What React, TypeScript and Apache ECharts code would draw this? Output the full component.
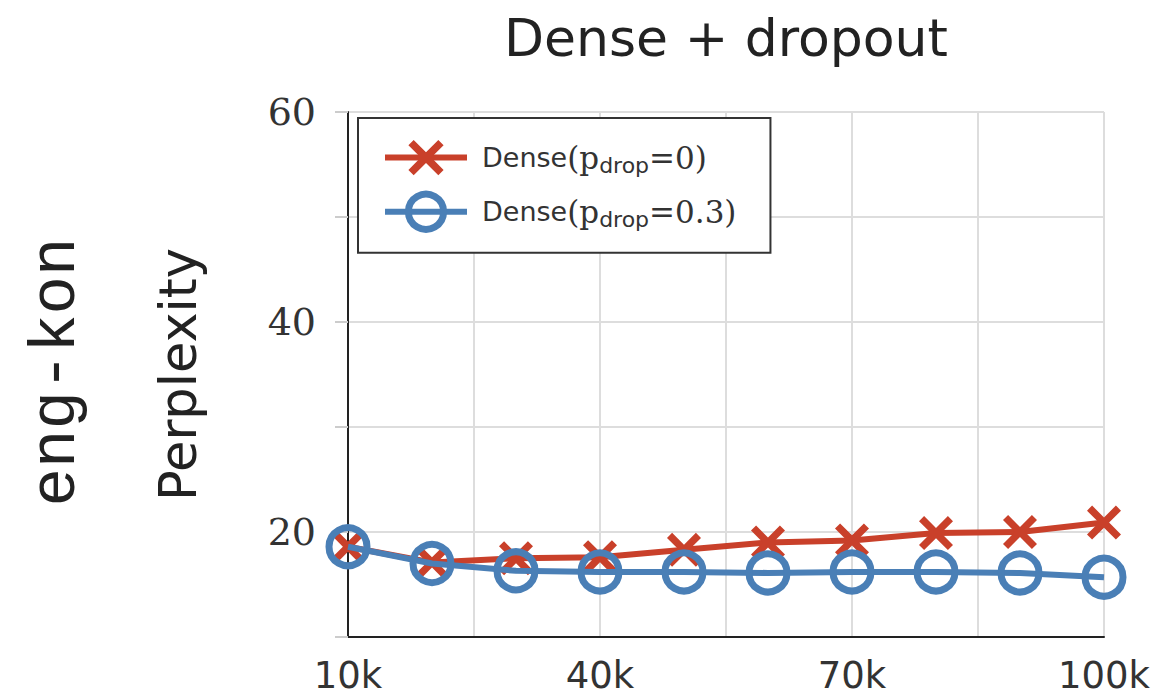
import React, { useEffect, useRef } from "react";
import * as echarts from "echarts";

const steps = [10, 20, 30, 40, 50, 60, 70, 80, 90, 100]; // thousands
const denseP0 = [18.6, 17.1, 17.5, 17.6, 18.3, 19.0, 19.2, 19.9, 20.0, 20.9];
const denseP03 = [18.6, 17.0, 16.3, 16.2, 16.2, 16.1, 16.2, 16.2, 16.1, 15.7];
const seriesNames = ["Dense(p_drop=0)", "Dense(p_drop=0.3)"];
const legendRich = ["{a|Dense}{b|(}{p|p}{s|drop}{b|=0)}", "{a|Dense}{b|(}{p|p}{s|drop}{b|=0.3)}"];
const xLabelEvery = 30;
const yLabels = [20, 40, 60];

const RED = "#c9402a";
const BLUE = "#4a7fb6";
const X_PATH =
  "path://M0,3 L3,0 L10,7 L17,0 L20,3 L13,10 L20,17 L17,20 L10,13 L3,20 L0,17 L7,10 Z";

export default function App() {
  const ref = useRef<HTMLDivElement>(null);
  useEffect(() => {
    if (!ref.current) return;
    const chart = echarts.init(ref.current, null, { renderer: "svg" });
    chart.setOption({
      animation: false,
      backgroundColor: "#fff",
      grid: { left: 348, right: 57, top: 112, bottom: 61, containLabel: false },
      graphic: [
        {
          type: "text",
          x: 726,
          y: 38,
          style: {
            text: "Dense + dropout",
            fontFamily: "DejaVu Sans",
            fontSize: 52,
            fill: "#222",
            textAlign: "center",
            textVerticalAlign: "middle",
          },
        },
        {
          type: "text",
          x: 57,
          y: 372,
          rotation: Math.PI / 2,
          style: {
            text: "eng-kon",
            fontFamily: "Liberation Mono",
            fontSize: 64,
            fill: "#222",
            textAlign: "center",
            textVerticalAlign: "middle",
          },
        },
      ],
      legend: {
        left: 358,
        top: 118,
        orient: "vertical",
        data: [
          {
            name: seriesNames[0],
            lineStyle: { width: 6, color: RED },
          },
          {
            name: seriesNames[1],
            lineStyle: { width: 6, color: BLUE },
            itemStyle: { color: "rgba(0,0,0,0)", borderColor: BLUE, borderWidth: 7 },
          },
        ],
        itemWidth: 82,
        itemHeight: 44,
        itemGap: 14,
        padding: [22, 34, 20, 24],
        borderColor: "#333",
        borderWidth: 2,
        backgroundColor: "#fff",
        formatter: (name: string) => legendRich[seriesNames.indexOf(name)],
        textStyle: {
          color: "#333",
          rich: {
            a: { fontFamily: "DejaVu Sans", fontSize: 27, lineHeight: 38, color: "#333", padding: [0, 0, 0, 10] },
            b: { fontFamily: "DejaVu Serif", fontSize: 31, lineHeight: 38, color: "#333" },
            p: { fontFamily: "DejaVu Serif", fontSize: 31, lineHeight: 38, color: "#333" },
            s: { fontFamily: "DejaVu Sans", fontSize: 22, lineHeight: 38, color: "#333", verticalAlign: "bottom" },
          },
        },
      },
      xAxis: [
        { type: "value", min: 10, max: 100, show: false },
        {
          type: "value",
          min: 0,
          max: 90,
          interval: 15,
          position: "bottom",
          axisLine: { show: true, lineStyle: { color: "#222", width: 2 } },
          axisTick: { show: false },
          axisLabel: {
            formatter: (v: number) => (v % xLabelEvery === 0 ? `${v + 10}k` : ""),
            fontFamily: "DejaVu Sans",
            fontSize: 37,
            color: "#333",
            margin: 20,
          },
          splitLine: { show: true, lineStyle: { color: "#ddd", width: 2 } },
        },
      ],
      yAxis: {
        type: "value",
        min: 10,
        max: 60,
        interval: 10,
        name: "Perplexity",
        nameLocation: "middle",
        nameRotate: 90,
        nameGap: 144,
        nameTextStyle: { fontFamily: "DejaVu Sans", fontSize: 51, color: "#222" },
        axisLine: { show: true, lineStyle: { color: "#222", width: 2 } },
        axisTick: { show: true, length: 13, lineStyle: { color: "#ccc", width: 2 } },
        axisLabel: {
          formatter: (v: number) => (yLabels.includes(v) ? String(v) : ""),
          fontFamily: "DejaVu Serif",
          fontSize: 38,
          color: "#333",
          margin: 32,
        },
        splitLine: { show: true, lineStyle: { color: "#ddd", width: 2 } },
      },
      series: [
        {
          name: seriesNames[0],
          type: "line",
          xAxisIndex: 0,
          data: steps.map((s, i) => [s, denseP0[i]]),
          symbol: X_PATH,
          symbolSize: 34,
          clip: false,
          lineStyle: { color: RED, width: 6 },
          itemStyle: { color: RED },
          z: 3,
        },
        {
          name: seriesNames[1],
          type: "line",
          xAxisIndex: 0,
          data: steps.map((s, i) => [s, denseP03[i]]),
          symbol: "circle",
          symbolSize: 38,
          clip: false,
          lineStyle: { color: BLUE, width: 6 },
          itemStyle: { color: "rgba(0,0,0,0)", borderColor: BLUE, borderWidth: 7 },
          z: 4,
        },
      ],
    });
    return () => chart.dispose();
  }, []);
  return <div ref={ref} style={{ width: 1161, height: 698, position: "absolute", left: 0, top: 0 }} />;
}
